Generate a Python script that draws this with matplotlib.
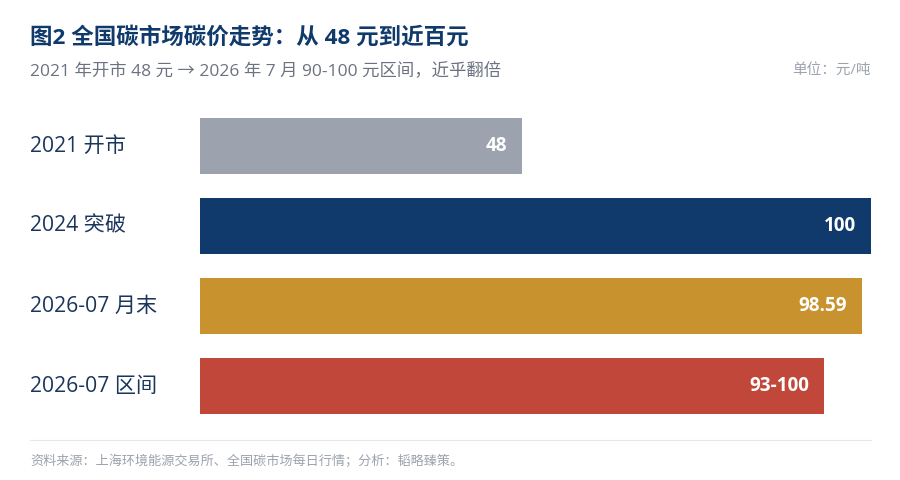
import matplotlib
matplotlib.use('Agg')
import matplotlib.pyplot as plt
from matplotlib.lines import Line2D

plt.rcParams['font.family'] = ['Open Sans', 'Noto Sans CJK SC', 'DejaVu Sans']

# 数据
categories = ['2021 开市', '2024 突破', '2026-07 月末', '2026-07 区间']
values = [48, 100, 98.59, 93]
value_labels = ['48', '100', '98.59', '93-100']
colors = ['#9CA3AF', '#0F3A6B', '#C8922E', '#C0473A']

W, H = 900, 480
fig = plt.figure(figsize=(W / 100, H / 100), dpi=100)
fig.patch.set_facecolor('white')

# 轴区域按像素摆放
ax = fig.add_axes([200 / W, (H - 426) / H, 671 / W, 320 / H])
ypos = list(range(len(categories)))
ax.barh(ypos, values, height=0.7, color=colors)
ax.set_xlim(0, 100)
ax.set_ylim(len(categories) - 0.5, -0.5)
ax.axis('off')

for y, v, lab in zip(ypos, values, value_labels):
    ax.annotate(lab, xy=(v, y), xytext=(-10.5, 0), textcoords='offset points',
                ha='right', va='center', color='white', fontsize=13.6,
                fontweight='bold')

for y, c in zip(ypos, categories):
    ax.annotate(c, xy=(0, y), xycoords=('axes fraction', 'data'),
                xytext=(30, 0), textcoords=('figure pixels', 'offset points'),
                ha='left', va='center', color='#1B365D', fontsize=15.2)

# 标题
fig.text(30 / W, 1 - 38 / H, '图2 全国碳市场碳价走势：从 48 元到近百元',
         ha='left', va='center', fontsize=16.2, fontweight='bold', color='#0F3A6B')
fig.text(30 / W, 1 - 71 / H, '2021 年开市 48 元 → 2026 年 7 月 90-100 元区间，近乎翻倍',
         ha='left', va='center', fontsize=12.5, color='#6B7280')
fig.text(871 / W, 1 - 70 / H, '单位：元/吨', ha='right', va='center',
         fontsize=10.5, color='#9CA3AF')

# 底部
fig.add_artist(Line2D([30 / W, 871 / W], [1 - 440 / H, 1 - 440 / H],
                      color='#E5E7EB', lw=0.8, transform=fig.transFigure))
fig.text(30 / W, 1 - 461 / H, '资料来源：上海环境能源交易所、全国碳市场每日行情；分析：韬略臻策。',
         ha='left', va='center', fontsize=9.45, color='#9CA3AF')

fig.savefig('out.png', dpi=100, facecolor='white')
